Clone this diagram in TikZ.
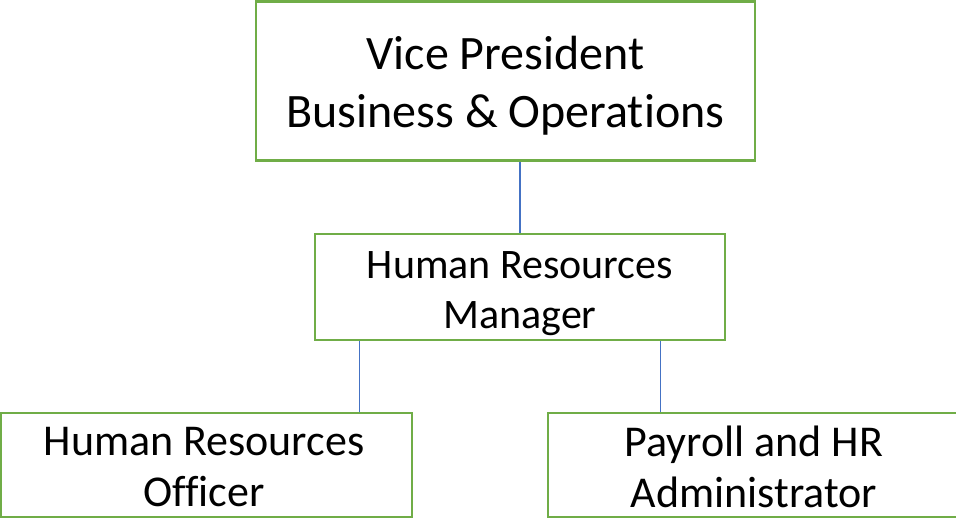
\documentclass[tikz,border=0pt]{standalone}
\usepackage{fontspec}
\setmainfont[Ligatures=NoCommon]{Carlito}
\definecolor{boxgreen}{HTML}{70AD47}
\definecolor{linkblue}{HTML}{4472C4}
\begin{document}
\begin{tikzpicture}[x=1pt,y=-1pt,
  box/.style={draw=boxgreen,line width=2.6pt,fill=white,rectangle,inner sep=0pt,align=center,text=black},
  link/.style={draw=linkblue,line width=1.1pt}]
\useasboundingbox[fill=white] (0,0) rectangle (956,519);
\node[box,minimum width=499pt,minimum height=159pt] (vp) at (505.5,81) {};
\node[font=\fontsize{48}{58}\selectfont,align=center,inner sep=0pt] (vpt) at (505.5,86) {Vice President\\Business \& Operations};
\node[box,minimum width=410pt,minimum height=106pt] (hrm) at (520,287) {};
\node[font=\fontsize{42}{50}\selectfont,align=center,inner sep=0pt] (hrmt) at (520,294) {Human Resources\\Manager};
\node[box,minimum width=411pt,minimum height=104pt] (hro) at (206.5,465) {};
\node[font=\fontsize{44}{51}\selectfont,align=center,inner sep=0pt] (hrot) at (204,467) {Human Resources\\Officer};
\node[box,minimum width=412pt,minimum height=104pt] (pay) at (754,465) {};
\node[font=\fontsize{44}{51}\selectfont,align=center,inner sep=0pt] (payt) at (754,467) {Payroll and HR\\Administrator};
\draw[link] (vp.south -| 520,0) -- (hrm.north -| 520,0);
\draw[link] (hrm.south -| 359.5,0) -- (hro.north -| 359.5,0);
\draw[link] (hrm.south -| 660.5,0) -- (pay.north -| 660.5,0);
\end{tikzpicture}
\end{document}
